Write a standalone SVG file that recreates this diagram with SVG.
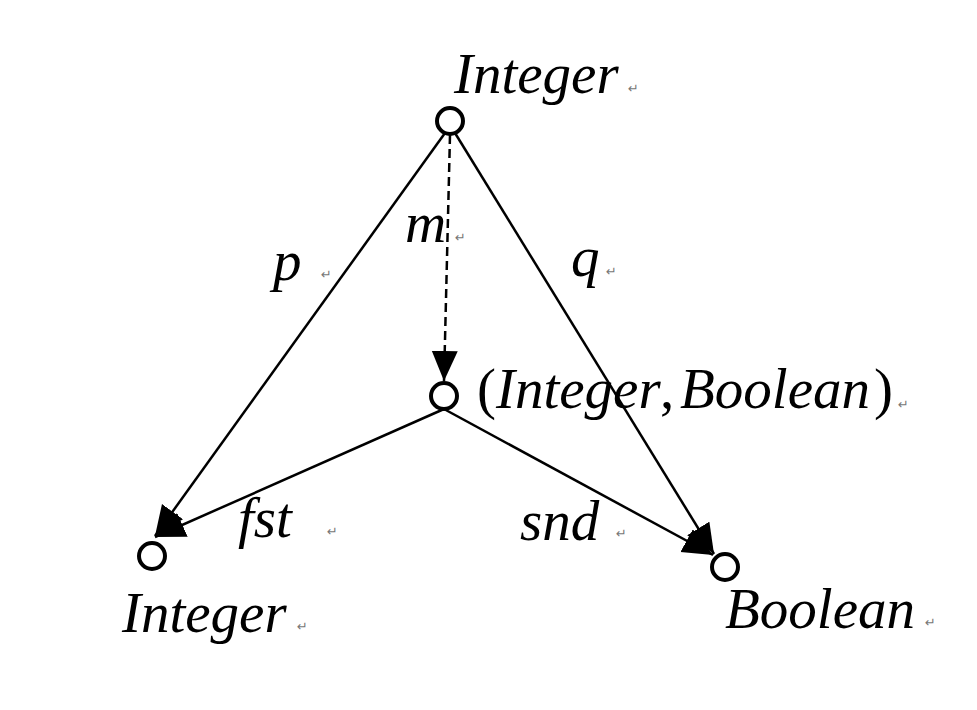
<svg xmlns="http://www.w3.org/2000/svg" width="977" height="710" viewBox="0 0 977 710">
<style>
.lbl{font-family:"Liberation Serif","Times New Roman",serif;font-style:italic;font-size:57px;fill:#000}
.up{font-style:normal}
.ret{font-family:"DejaVu Sans",sans-serif;font-size:13px;fill:#777}
.node{fill:#fff;stroke:#000;stroke-width:4}
.edge{stroke:#000;stroke-width:2.5;fill:none}
.dash{stroke-dasharray:9 5}
</style>
<defs>
<marker id="ah" markerUnits="userSpaceOnUse" markerWidth="32" markerHeight="28" refX="30" refY="13" orient="auto">
<path d="M0,0 L30,13 L0,26 z" fill="#000"/>
</marker>
</defs>
<rect width="977" height="710" fill="#fff"/>
<g id="connectors">
<line id="p" class="edge" x1="445" y1="133" x2="155" y2="536" marker-end="url(#ah)"/>
<line id="q" class="edge" x1="455" y1="133" x2="714" y2="554" marker-end="url(#ah)"/>
<line id="m" class="edge dash" x1="450" y1="135" x2="444" y2="381" marker-end="url(#ah)"/>
<line id="fst" class="edge" x1="444" y1="409" x2="155" y2="537" marker-end="url(#ah)"/>
<line id="snd" class="edge" x1="444" y1="409" x2="713" y2="555" marker-end="url(#ah)"/>
</g>
<g id="node-top">
<circle class="node" cx="450" cy="121" r="13"/>
<text class="lbl" x="454" y="93">Integer</text>
<text class="ret" x="628" y="93">↵</text>
</g>
<g id="node-pair">
<circle class="node" cx="444" cy="396" r="13"/>
<text class="lbl" y="408"><tspan class="up" x="477">(</tspan><tspan x="496">Integer</tspan><tspan class="up" x="660">,</tspan><tspan x="680">Boolean</tspan><tspan class="up" x="874">)</tspan></text>
<text class="ret" x="898" y="409">↵</text>
</g>
<g id="node-left">
<circle class="node" cx="152" cy="556" r="13"/>
<text class="lbl" x="122" y="632">Integer</text>
<text class="ret" x="297" y="631">↵</text>
</g>
<g id="node-right">
<circle class="node" cx="725" cy="567" r="13"/>
<text class="lbl" x="725" y="628">Boolean</text>
<text class="ret" x="925" y="627">↵</text>
</g>
<g id="edge-labels">
<text class="lbl" x="405" y="242">m</text>
<text class="ret" x="455" y="242">↵</text>
<text class="lbl" x="273" y="280">p</text>
<text class="ret" x="321" y="279">↵</text>
<text class="lbl" x="571" y="276">q</text>
<text class="ret" x="606" y="276">↵</text>
<text class="lbl" x="238" y="537">fst</text>
<text class="ret" x="327" y="536">↵</text>
<text class="lbl" x="520" y="540">snd</text>
<text class="ret" x="616" y="538">↵</text>
</g>
</svg>
